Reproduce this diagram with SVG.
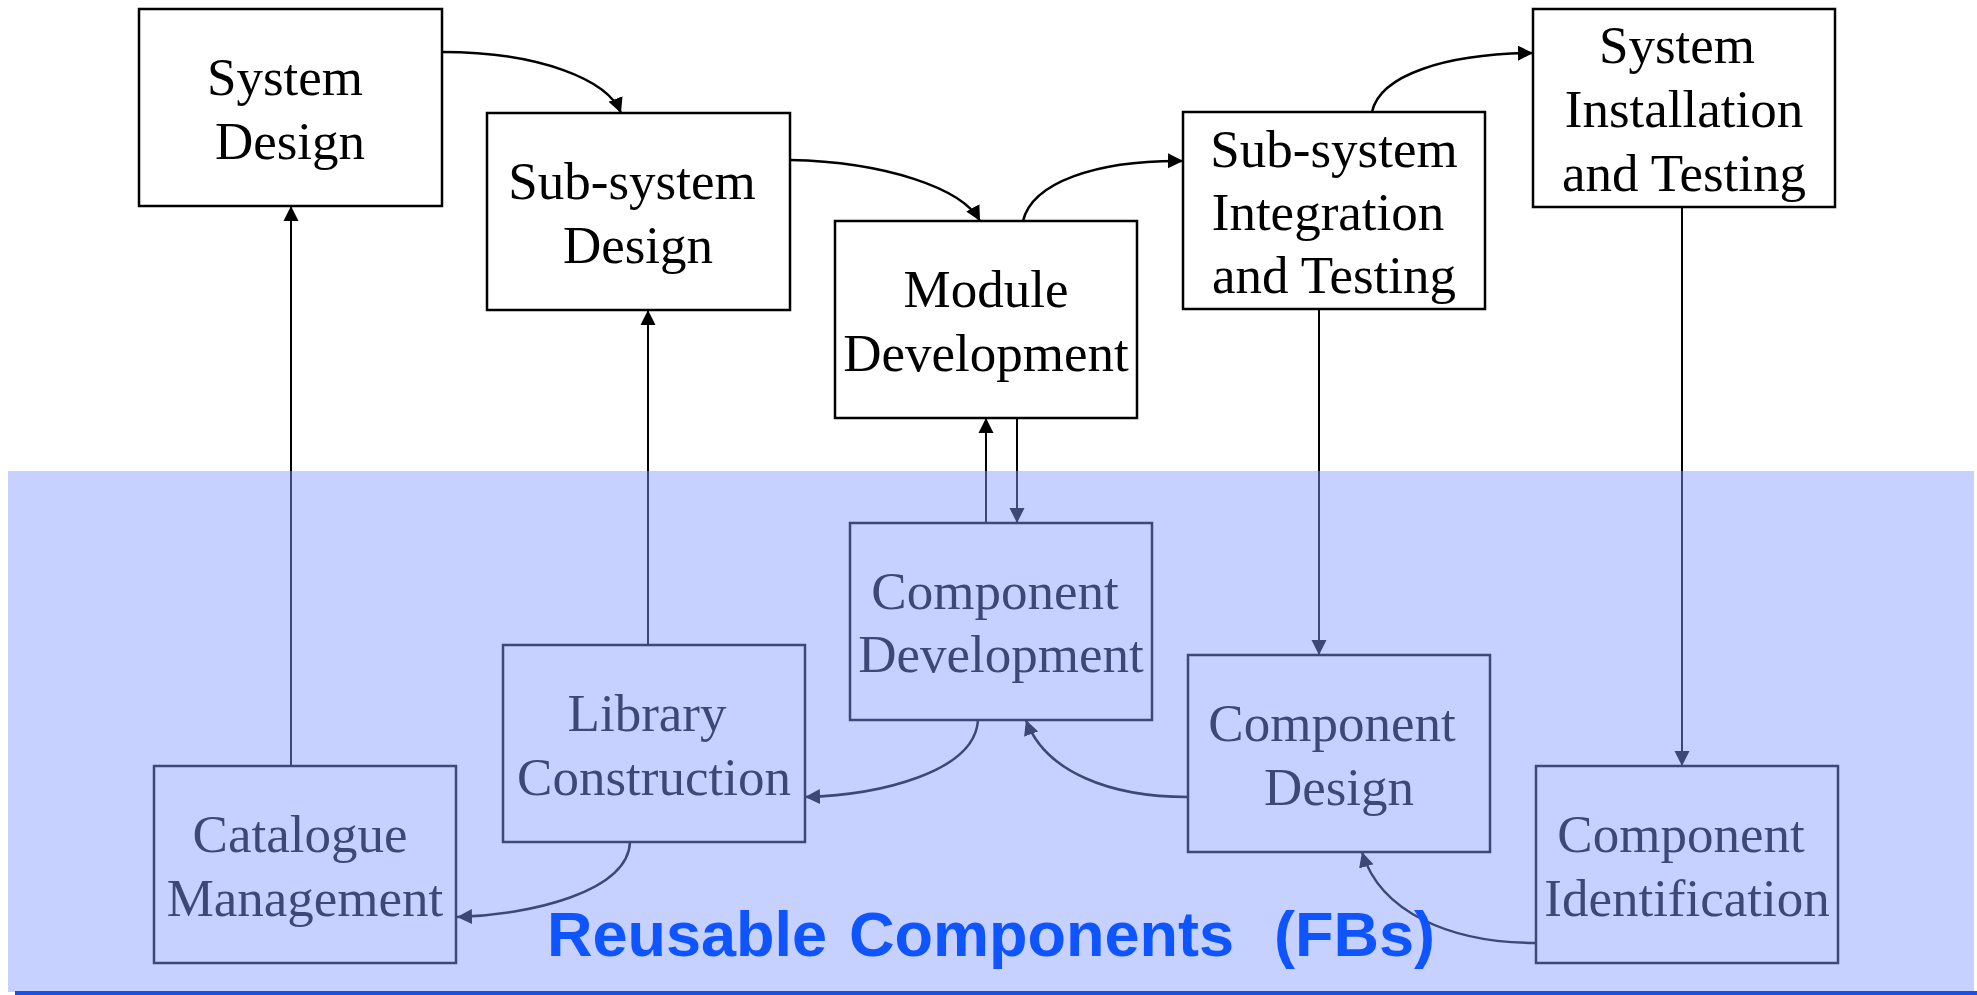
<svg xmlns="http://www.w3.org/2000/svg" width="1977" height="995" viewBox="0 0 1977 995">
<defs>
<marker id="ah" markerUnits="userSpaceOnUse" markerWidth="16" markerHeight="16" viewBox="0 0 16 16" refX="15" refY="8" orient="auto">
<path d="M0,0.5 L15,8 L0,15.5 Z" fill="#000"/>
</marker>
<style>
.box{fill:#fff;stroke:#000;stroke-width:2.5}
.lbl{font-family:"Liberation Serif","Times New Roman",serif;font-size:53px;fill:#000;text-anchor:middle}
.con{fill:none;stroke:#000;stroke-width:2.5;marker-end:url(#ah)}
.vline{fill:none;stroke:#000;stroke-width:2;marker-end:url(#ah)}
.title{font-family:"Liberation Sans",Arial,sans-serif;font-weight:bold;font-size:63px;fill:#0f55ff}
</style>
</defs>
<rect x="0" y="0" width="1977" height="995" fill="#fff"/>

<g id="node-system-design"><rect class="box" x="139" y="9" width="303" height="197"/><text class="lbl" x="285" y="95">System</text><text class="lbl" x="290" y="159">Design</text></g>
<g id="node-subsystem-design"><rect class="box" x="487" y="113" width="303" height="197"/><text class="lbl" x="632" y="199">Sub-system</text><text class="lbl" x="638" y="263">Design</text></g>
<g id="node-module-development"><rect class="box" x="835" y="221" width="302" height="197"/><text class="lbl" x="986" y="307">Module</text><text class="lbl" x="986" y="371">Development</text></g>
<g id="node-subsystem-integration"><rect class="box" x="1183" y="112" width="302" height="197"/><text class="lbl" x="1334" y="167">Sub-system</text><text class="lbl" x="1328" y="230">Integration</text><text class="lbl" x="1334" y="293">and Testing</text></g>
<g id="node-system-installation"><rect class="box" x="1533" y="9" width="302" height="198"/><text class="lbl" x="1677" y="63">System</text><text class="lbl" x="1684" y="127">Installation</text><text class="lbl" x="1684" y="191">and Testing</text></g>

<g id="node-component-development"><rect class="box" x="850" y="523" width="302" height="197"/><text class="lbl" x="995" y="609">Component</text><text class="lbl" x="1001" y="672">Development</text></g>
<g id="node-library-construction"><rect class="box" x="503" y="645" width="302" height="197"/><text class="lbl" x="647" y="731">Library</text><text class="lbl" x="654" y="795">Construction</text></g>
<g id="node-catalogue-management"><rect class="box" x="154" y="766" width="302" height="197"/><text class="lbl" x="300" y="852">Catalogue</text><text class="lbl" x="305" y="916">Management</text></g>
<g id="node-component-design"><rect class="box" x="1188" y="655" width="302" height="197"/><text class="lbl" x="1332" y="741">Component</text><text class="lbl" x="1339" y="805">Design</text></g>
<g id="node-component-identification"><rect class="box" x="1536" y="766" width="302" height="197"/><text class="lbl" x="1681" y="852">Component</text><text class="lbl" x="1687" y="916">Identification</text></g>

<g id="connectors">
<path class="con" d="M442,52 C540,52 608,80 621,113"/>
<path class="con" d="M790,160 C885,162 962,188 980,221"/>
<path class="con" d="M1023,221 C1032,183 1095,160 1183,161"/>
<path class="con" d="M1372,112 C1380,75 1445,54 1533,53"/>
<path class="vline" d="M291,766 L291,206"/>
<path class="vline" d="M648,645 L648,310"/>
<path class="vline" d="M986,523 L986,418"/>
<path class="vline" d="M1017,418 L1017,523"/>
<path class="vline" d="M1319,309 L1319,655"/>
<path class="vline" d="M1682,207 L1682,766"/>
<path class="con" d="M978,720 C975,772 880,795 805,797"/>
<path class="con" d="M630,842 C628,892 530,915 457,917"/>
<path class="con" d="M1188,797 C1110,797 1045,772 1026,720"/>
<path class="con" d="M1536,943 C1450,943 1380,912 1362,852"/>
</g>

<rect id="reuse-band" x="8" y="471" width="1966" height="521" fill="rgb(134,156,255)" fill-opacity="0.463"/>
<rect x="15" y="991" width="1962" height="4" fill="#1a50ea"/>
<text class="title" xml:space="preserve"><tspan x="547" y="956">Reusable</tspan><tspan x="849" y="956">Components</tspan><tspan x="1274" y="956">(FBs)</tspan></text>
</svg>
